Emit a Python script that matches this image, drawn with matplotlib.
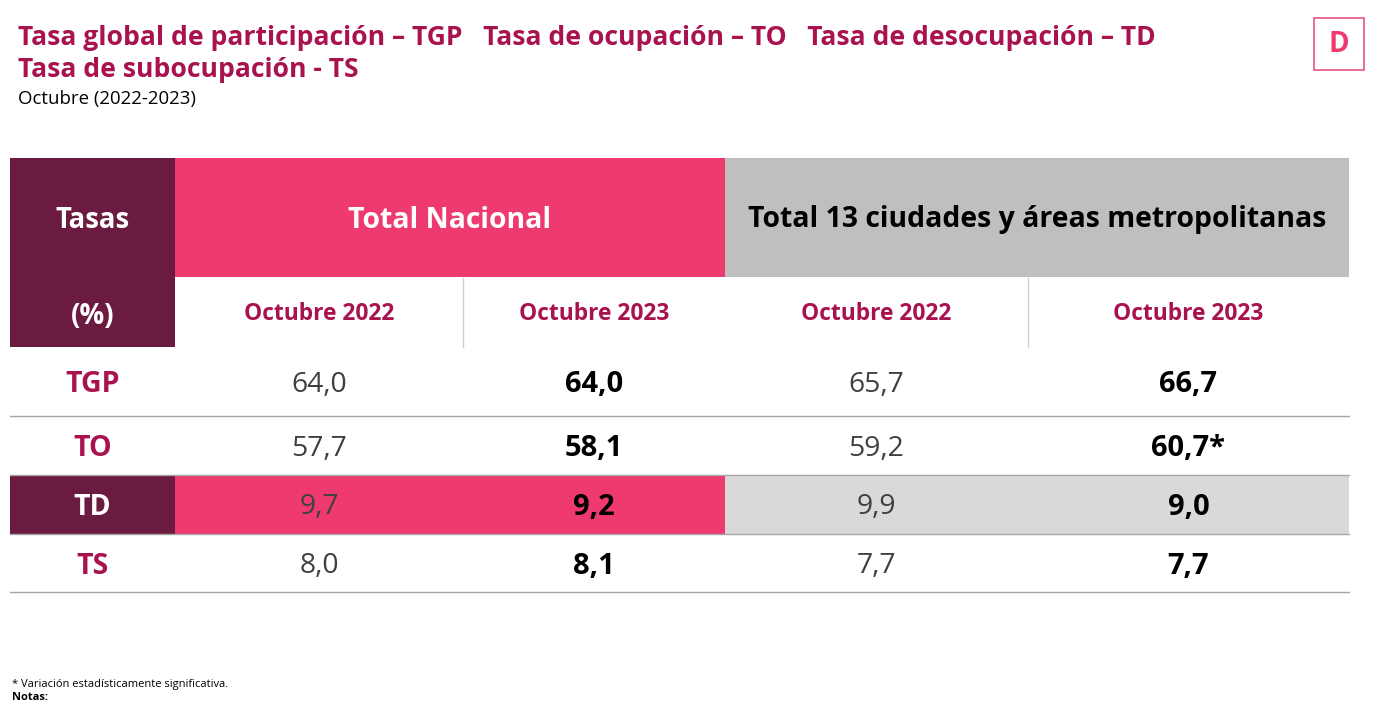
import matplotlib
matplotlib.use("Agg")
import matplotlib.pyplot as plt
from matplotlib.patches import Rectangle

# datos
tasas = ["TGP", "TO", "TD", "TS"]
nacional_2022 = [64.0, 57.7, 9.7, 8.0]
nacional_2023 = [64.0, 58.1, 9.2, 8.1]
ciudades_2022 = [65.7, 59.2, 9.9, 7.7]
ciudades_2023 = [66.7, 60.7, 9.0, 7.7]
ciudades_2023_sig = [False, True, False, False]
periodos = ["Octubre 2022", "Octubre 2023"]
grupos = ["Total Nacional", "Total 13 ciudades y áreas metropolitanas"]

CRIMSON = "#A8124F"
PURPLE = "#6B1A40"
PINK = "#EE3A6E"
GREY_HEAD = "#BFBFBF"
GREY_ROW = "#D9D9D9"
LINE = "#A6A6A6"
FONT = "Open Sans"

W, H = 1378, 703
fig = plt.figure(figsize=(W / 100, H / 100), dpi=100)
ax = fig.add_axes([0, 0, 1, 1])
ax.set_xlim(0, W)
ax.set_ylim(H, 0)
ax.axis("off")


def fmt(v):
    return f"{v:.1f}".replace(".", ",")


# titulo
ax.text(18, 38, "Tasa global de participación – TGP   Tasa de ocupación – TO   Tasa de desocupación – TD",
        fontsize=19.1, fontweight="bold", color=CRIMSON, family=FONT, va="center")
ax.text(18, 70, "Tasa de subocupación - TS", fontsize=19.1, fontweight="bold",
        color=CRIMSON, family=FONT, va="center")
ax.text(18, 99, "Octubre (2022-2023)", fontsize=13.4, color="black", family=FONT, va="center")

# logo
ax.add_patch(Rectangle((1314, 18), 50, 52, fill=False, edgecolor="#E0557F", lw=1.2))
ax.text(1339, 45, "D", fontsize=20, fontweight="bold", color=PINK, family=FONT,
        ha="center", va="center")

# columnas
x0, x_nac, x_nac_mid, x_ciu, x_ciu_mid, x1 = 10, 175, 463, 725, 1028, 1349
col_centers = [(x_nac + x_nac_mid) / 2, (x_nac_mid + x_ciu) / 2,
               (x_ciu + x_ciu_mid) / 2, (x_ciu_mid + x1) / 2]

# encabezado
ax.add_patch(Rectangle((x0, 158), x_nac - x0, 347 - 158, color=PURPLE, lw=0))
ax.add_patch(Rectangle((x_nac, 158), x_ciu - x_nac, 277 - 158, color=PINK, lw=0))
ax.add_patch(Rectangle((x_ciu, 158), x1 - x_ciu, 277 - 158, color=GREY_HEAD, lw=0))
ax.text((x0 + x_nac) / 2, 220, "Tasas", fontsize=19.8, fontweight="bold", color="white",
        family=FONT, ha="center", va="center")
ax.text((x0 + x_nac) / 2, 316, "(%)", fontsize=19.8, fontweight="bold", color="white",
        family=FONT, ha="center", va="center")
ax.text((x_nac + x_ciu) / 2, 220, grupos[0], fontsize=20.4, fontweight="bold", color="white",
        family=FONT, ha="center", va="center")
ax.text((x_ciu + x1) / 2, 220, grupos[1], fontsize=20.4, fontweight="bold", color="black",
        family=FONT, ha="center", va="center")
for i, cx in enumerate(col_centers):
    ax.text(cx, 314, periodos[i % 2], fontsize=16.4, fontweight="bold", color=CRIMSON,
            family=FONT, ha="center", va="center")
for xv in (x_nac_mid, x_ciu_mid):
    ax.plot([xv, xv], [278, 347], color="#D0D0D0", lw=1)

# filas
row_top = [347, 416, 475, 534]
row_bot = [416, 475, 534, 592]
for i, t in enumerate(tasas):
    yc = (row_top[i] + row_bot[i]) / 2 + 3
    label_color = CRIMSON
    if t == "TD":
        ax.add_patch(Rectangle((x0, row_top[i]), x_nac - x0, row_bot[i] - row_top[i], color=PURPLE, lw=0))
        ax.add_patch(Rectangle((x_nac, row_top[i]), x_ciu - x_nac, row_bot[i] - row_top[i], color=PINK, lw=0))
        ax.add_patch(Rectangle((x_ciu, row_top[i]), x1 - x_ciu, row_bot[i] - row_top[i], color=GREY_ROW, lw=0))
        label_color = "white"
    ax.text((x0 + x_nac) / 2, yc, t, fontsize=20.5, fontweight="bold", color=label_color,
            family=FONT, ha="center", va="center")
    vals = [fmt(nacional_2022[i]), fmt(nacional_2023[i]), fmt(ciudades_2022[i]),
            fmt(ciudades_2023[i]) + ("*" if ciudades_2023_sig[i] else "")]
    for j, v in enumerate(vals):
        bold = j % 2 == 1
        ax.text(col_centers[j], yc, v, fontsize=21 if bold else 20.3,
                fontweight="bold" if bold else "normal",
                color="black" if bold else "#404040", family=FONT, ha="center", va="center")
    ax.plot([x0, x1], [row_bot[i], row_bot[i]], color=LINE, lw=1)

# notas
ax.text(12, 685, "* Variación estadísticamente significativa.", fontsize=8,
        color="black", family=FONT, va="center")
ax.text(12, 697, "Notas:", fontsize=8, fontweight="bold", color="black", family=FONT, va="center")

fig.savefig("out.png", dpi=100)
